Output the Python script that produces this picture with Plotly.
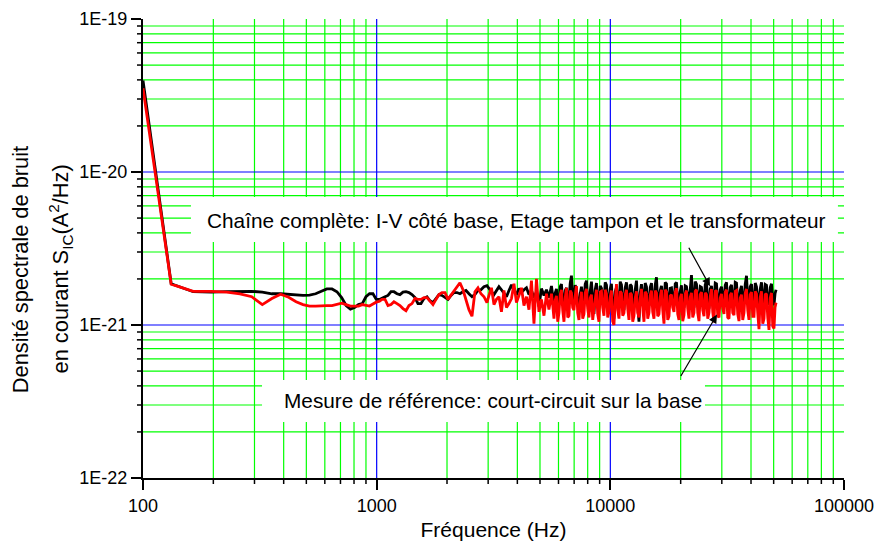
import math
import plotly.graph_objects as go

# Spectral density is stored in units of 1e-21 A^2/Hz
UNIT = 1e-21

freq_hz = [
    100, 132, 164, 196, 228, 260, 292, 324, 356, 388,
    420, 452, 484, 516, 548, 580, 612, 644, 676, 708,
    740, 772, 804, 836, 868, 900, 932, 964, 996, 1028,
    1054, 1086, 1118, 1152, 1186, 1222, 1258, 1296, 1335, 1375,
    1416, 1459, 1502, 1547, 1594, 1642, 1691, 1742, 1794, 1848,
    1903, 1960, 2019, 2080, 2142, 2206, 2272, 2341, 2411, 2483,
    2558, 2634, 2713, 2795, 2879, 2965,
    3024, 3099, 3177, 3256, 3337, 3420, 3506, 3593, 3683, 3775,
    3869, 3965, 4064, 4166, 4270, 4376, 4485, 4597, 4712, 4829,
    4950, 5073, 5200, 5330, 5462,
    5599, 5668, 5738, 5809, 5881, 5954, 6028, 6103, 6178, 6255,
    6333, 6411, 6491, 6571, 6652, 6734, 6818, 6903, 6988, 7075,
    7163, 7251, 7341, 7432, 7524, 7617, 7712, 7807, 7904, 8002,
    8101, 8201, 8303, 8406, 8510, 8616, 8723, 8831, 8940, 9051,
    9163, 9277, 9392, 9508, 9626, 9745, 9866, 9988, 10112, 10237,
    10364, 10492, 10623, 10755, 10888, 11023, 11160, 11298, 11438, 11580,
    11723, 11869, 12016, 12165, 12316, 12469, 12623, 12779, 12938, 13098,
    13260, 13424, 13591, 13760, 13930, 14103, 14278, 14455, 14634, 14816,
    14999, 15185, 15373, 15564, 15757, 15952, 16150, 16350, 16553, 16758,
    16966, 17177, 17389, 17605, 17823, 18044, 18267, 18494, 18723, 18955,
    19190, 19428, 19669, 19913, 20159, 20409, 20662, 20919, 21178, 21441,
    21706, 21975, 22248, 22524, 22803, 23086, 23372, 23662, 23955, 24252,
    24552, 24857, 25165, 25477, 25793, 26113, 26436, 26764, 27096, 27432,
    27772, 28116, 28464, 28817, 29174, 29536, 29902, 30273, 30648, 31028,
    31413, 31803, 32196, 32595, 32999, 33408, 33823, 34243, 34666, 35096,
    35531, 35972, 36417, 36869, 37326, 37789, 38257, 38731, 39211, 39698,
    40189, 40688, 41192, 41703, 42219, 42743, 43272, 43809, 44352, 44902,
    45458, 46022, 46592, 47170, 47754, 48346, 48945, 49552, 50166, 50680,
    51200,
]

# Full chain: I-V on base side, buffer stage and transformer
chaine_complete = [
    39.7, 1.86, 1.65, 1.64, 1.65, 1.65, 1.66, 1.64, 1.60, 1.60,
    1.58, 1.56, 1.56, 1.57, 1.60, 1.66, 1.72, 1.72, 1.65, 1.51,
    1.34, 1.27, 1.30, 1.36, 1.38, 1.53, 1.60, 1.60, 1.47, 1.47,
    1.49, 1.53, 1.56, 1.65, 1.65, 1.60, 1.58, 1.64, 1.65, 1.63,
    1.58, 1.51, 1.38, 1.38, 1.49, 1.53, 1.44, 1.40, 1.49, 1.58,
    1.56, 1.51, 1.47, 1.56, 1.63, 1.63, 1.60, 1.65, 1.68, 1.60,
    1.53, 1.58, 1.68, 1.70, 1.78, 1.81,
    1.75, 1.65, 1.58, 1.68, 1.78, 1.70, 1.60, 1.53, 1.68, 1.83,
    1.68, 1.58, 1.73, 1.63, 1.70, 1.75, 1.58, 1.68, 1.51, 1.65,
    1.32, 1.73, 1.56, 1.70, 1.51,
    1.80, 1.55, 1.35, 1.62, 1.72, 1.30, 1.40, 1.78, 1.85, 1.42,
    1.30, 1.68, 1.75, 1.32, 1.45, 1.88, 2.10, 1.50, 1.38, 1.82,
    1.70, 1.35, 1.28, 1.60, 1.78, 1.48, 1.42, 1.85, 1.95, 1.40,
    1.22, 1.66, 1.92, 1.45, 1.18, 1.70, 1.88, 1.30, 1.35, 1.80,
    1.74, 1.52, 1.40, 1.90, 1.82, 1.38, 1.30, 1.72, 1.86, 1.28,
    1.10, 1.65, 1.76, 1.44, 1.30, 1.92, 1.83, 1.36, 1.25, 1.75,
    1.90, 1.48, 1.38, 1.84, 1.80, 1.40, 1.32, 1.70, 1.95, 1.34,
    1.05, 1.62, 1.85, 1.50, 1.40, 1.88, 1.78, 1.32, 1.35, 1.76,
    1.88, 1.45, 1.30, 1.83, 2.05, 1.38, 1.42, 1.68, 1.80, 1.50,
    1.28, 1.90, 1.86, 1.35, 1.38, 1.74, 1.75, 1.46, 1.33, 1.86,
    1.90, 1.40, 1.40, 1.66, 1.82, 1.32, 1.30, 1.80, 1.78, 1.52,
    1.36, 1.70, 2.12, 1.42, 1.30, 1.92, 1.85, 1.36, 1.42, 1.78,
    1.76, 1.48, 1.34, 1.84, 1.92, 1.34, 1.28, 1.72, 1.80, 1.45,
    1.38, 1.88, 1.86, 1.38, 1.32, 1.70, 1.78, 1.50, 1.40, 1.82,
    1.90, 1.36, 1.30, 1.76, 1.83, 1.44, 1.36, 1.90, 1.88, 1.40,
    1.30, 1.68, 1.80, 1.34, 1.42, 1.85, 2.10, 1.46, 1.35, 1.78,
    1.85, 1.38, 1.30, 1.88, 1.78, 1.42, 1.38, 1.72, 1.90, 1.50,
    1.32, 1.84, 1.82, 1.36, 1.40, 1.76, 1.86, 1.45, 1.35, 1.60,
    1.70,
]

# Reference measurement: base short-circuited
mesure_reference = [
    35.3, 1.85, 1.66, 1.66, 1.64, 1.60, 1.53, 1.36, 1.49, 1.59,
    1.52, 1.42, 1.36, 1.33, 1.33, 1.34, 1.34, 1.34, 1.36, 1.39,
    1.36, 1.33, 1.33, 1.33, 1.36, 1.34, 1.33, 1.37, 1.41, 1.43,
    1.47, 1.47, 1.34, 1.36, 1.42, 1.38, 1.34, 1.28, 1.24, 1.34,
    1.38, 1.49, 1.47, 1.47, 1.51, 1.51, 1.42, 1.36, 1.47, 1.58,
    1.63, 1.63, 1.47, 1.56, 1.65, 1.75, 1.89, 1.70, 1.47, 1.26,
    1.14, 1.65, 1.75, 1.60, 1.53, 1.40,
    1.56, 1.75, 1.36, 1.47, 1.53, 1.22, 1.68, 1.30, 1.38, 1.49,
    1.86, 1.40, 1.56, 1.75, 1.34, 1.53, 1.26, 1.95, 1.02, 2.00,
    1.22, 1.47, 1.15, 1.60, 1.26,
    1.60, 1.35, 1.10, 1.45, 1.55, 1.05, 1.20, 1.58, 1.70, 1.25,
    1.05, 1.50, 1.75, 1.12, 1.15, 1.68, 1.62, 1.30, 1.25, 1.55,
    1.80, 1.20, 1.08, 1.40, 1.65, 1.10, 1.18, 1.62, 1.72, 1.28,
    1.12, 1.50, 1.58, 1.08, 1.25, 1.55, 1.70, 1.18, 1.05, 1.64,
    1.66, 1.30, 1.15, 1.70, 1.60, 1.12, 1.22, 1.52, 1.68, 1.06,
    1.00, 1.45, 1.85, 1.25, 1.10, 1.66, 1.62, 1.15, 1.20, 1.58,
    1.70, 1.28, 1.08, 1.62, 1.58, 1.05, 1.15, 1.50, 1.66, 1.20,
    1.12, 1.48, 1.72, 1.30, 1.05, 1.65, 1.60, 1.10, 1.20, 1.56,
    1.68, 1.22, 1.10, 1.68, 1.62, 1.14, 1.18, 1.52, 1.70, 1.26,
    1.02, 1.70, 1.65, 1.08, 1.14, 1.55, 1.58, 1.30, 1.22, 1.64,
    1.74, 1.18, 1.08, 1.50, 1.60, 1.06, 1.16, 1.60, 1.68, 1.28,
    1.10, 1.52, 1.62, 1.12, 1.20, 1.66, 1.70, 1.20, 1.06, 1.58,
    1.64, 1.25, 1.14, 1.62, 1.58, 1.10, 1.20, 1.54, 1.72, 1.22,
    1.04, 1.68, 1.66, 1.15, 1.12, 1.50, 1.60, 1.28, 1.18, 1.64,
    1.70, 1.12, 1.10, 1.56, 1.62, 1.20, 1.16, 1.66, 1.68, 1.18,
    1.06, 1.50, 1.58, 1.08, 1.20, 1.62, 1.72, 1.25, 1.08, 1.58,
    1.64, 1.14, 1.14, 1.66, 1.60, 1.20, 0.94, 1.52, 1.66, 1.02,
    1.10, 1.60, 1.58, 1.12, 0.93, 1.50, 1.62, 0.98, 0.95, 1.30,
    1.40,
]

assert len(freq_hz) == len(chaine_complete) == len(mesure_reference)

# Axis ticks and grid positions
X_RANGE = (2, 5)      # log10(Hz)
Y_RANGE = (-22, -19)  # log10(A^2/Hz)
x_major = [100, 1000, 10000, 100000]
x_major_text = ["100", "1000", "10000", "100000"]
y_major = [1e-22, 1e-21, 1e-20, 1e-19]
y_major_text = ["1E-22", "1E-21", "1E-20", "1E-19"]
minor_steps = [2, 3, 4, 5, 6, 7, 8, 9]
x_minor = [m * d for d in [100, 1000, 10000] for m in minor_steps]
y_minor = [m * d for d in [1e-22, 1e-21, 1e-20] for m in minor_steps]
x_inner_major = [1000, 10000]
y_inner_major = [1e-21, 1e-20]

# Label boxes in data units: (f_min, f_max, S_min, S_max)
box_full_chain = (160.4, 94190, 3.487e-21, 6.866e-21)
box_reference = (323.1, 25410, 2.323e-22, 4.370e-22)

# Arrow targets (frequency, density in 1e-21 units)
arrow_full_chain = (26700, 1.79)
arrow_reference = (28600, 1.17)

FONT = "Liberation Sans, Arial, sans-serif"
GREEN = "#00ff00"
BLUE = "#0000ff"

PLOT_W = 877 - 143 - 33
PLOT_H = 547 - 19 - 69
MINOR_LEN = 6
F_LO, F_HI = 10 ** X_RANGE[0], 10 ** X_RANGE[1]
S_LO, S_HI = 10 ** Y_RANGE[0], 10 ** Y_RANGE[1]


def x_frac(v):
    return (math.log10(v) - X_RANGE[0]) / (X_RANGE[1] - X_RANGE[0])


def y_frac(v):
    return (math.log10(v) - Y_RANGE[0]) / (Y_RANGE[1] - Y_RANGE[0])


fig = go.Figure()
fig.add_trace(go.Scatter(
    x=freq_hz, y=[v * UNIT for v in chaine_complete], mode="lines",
    line=dict(color="black", width=2.8), showlegend=False,
))
fig.add_trace(go.Scatter(
    x=freq_hz, y=[v * UNIT for v in mesure_reference], mode="lines",
    line=dict(color="#ff0000", width=2.8), showlegend=False,
))

axis_common = dict(
    type="log", showline=True, linecolor="black", linewidth=2,
    ticks="outside", ticklen=10, tickwidth=2, tickcolor="black",
    showgrid=False, zeroline=False, automargin=False,
    tickfont=dict(family=FONT, size=18, color="black"),
)

fig.update_xaxes(
    **axis_common, range=list(X_RANGE), tickmode="array",
    tickvals=x_major, ticktext=x_major_text,
    title=dict(text="Fréquence (Hz)", font=dict(family=FONT, size=21, color="black"),
               standoff=8),
)
fig.update_yaxes(
    **axis_common, range=list(Y_RANGE), tickmode="array",
    tickvals=y_major, ticktext=y_major_text,
)

shapes = []
# Grid lines (shape positions on log axes are given in data units)
for v in x_minor:
    shapes.append(dict(type="line", xref="x", yref="y", x0=v, x1=v, y0=S_LO, y1=S_HI,
                       line=dict(color=GREEN, width=1.2), layer="below"))
for v in y_minor:
    shapes.append(dict(type="line", xref="x", yref="y", y0=v, y1=v, x0=F_LO, x1=F_HI,
                       line=dict(color=GREEN, width=1.2), layer="below"))
for v in x_inner_major:
    shapes.append(dict(type="line", xref="x", yref="y", x0=v, x1=v, y0=S_LO, y1=S_HI,
                       line=dict(color=BLUE, width=1.2), layer="below"))
for v in y_inner_major:
    shapes.append(dict(type="line", xref="x", yref="y", y0=v, y1=v, x0=F_LO, x1=F_HI,
                       line=dict(color=BLUE, width=1.2), layer="below"))
# White label boxes over the grid
for fx0, fx1, sy0, sy1 in (box_full_chain, box_reference):
    shapes.append(dict(type="rect", xref="x", yref="y", x0=fx0, x1=fx1, y0=sy0, y1=sy1,
                       fillcolor="white", line=dict(width=0), layer="below"))
# Minor tick marks outside the axes
for v in x_minor:
    shapes.append(dict(type="line", xref="paper", yref="paper", x0=x_frac(v), x1=x_frac(v),
                       y0=0, y1=-MINOR_LEN / PLOT_H, line=dict(color="black", width=1.5)))
for v in y_minor:
    shapes.append(dict(type="line", xref="paper", yref="paper", y0=y_frac(v), y1=y_frac(v),
                       x0=0, x1=-MINOR_LEN / PLOT_W, line=dict(color="black", width=1.5)))
fig.update_layout(shapes=shapes)

label_font = dict(family=FONT, size=20.8, color="black")
fig.add_annotation(text="Chaîne complète: I-V côté base, Etage tampon et le transformateur",
                   xref="paper", yref="paper", x=0.5335, y=0.562, showarrow=False,
                   font=label_font, xanchor="center", yanchor="middle")
fig.add_annotation(text="Mesure de référence: court-circuit sur la base",
                   xref="paper", yref="paper", x=0.4993, y=0.1678, showarrow=False,
                   font=label_font, xanchor="center", yanchor="middle")

# Annotation positions on log axes are given in log10 units
for (fx, vy), (ax, ay) in [(arrow_full_chain, (-22, -40)), (arrow_reference, (-37, 63))]:
    fig.add_annotation(x=math.log10(fx), y=math.log10(vy * UNIT), xref="x", yref="y",
                       text="", showarrow=True, ax=ax, ay=ay, arrowhead=2,
                       arrowsize=1.4, arrowwidth=1.2, arrowcolor="black")

# Two-line y-axis title
title_font = dict(family=FONT, size=21.8, color="black")
fig.add_annotation(text="Densité spectrale de bruit", xref="paper", yref="paper",
                   x=-0.1755, y=0.455, textangle=-90, showarrow=False, font=title_font,
                   xanchor="center", yanchor="middle")
fig.add_annotation(text="en courant S<sub>IC</sub>(A<sup>2</sup>/Hz)", xref="paper", yref="paper",
                   x=-0.118, y=0.455, textangle=-90, showarrow=False, font=title_font,
                   xanchor="center", yanchor="middle")

fig.update_layout(
    width=877, height=547,
    margin=dict(l=143, r=33, t=19, b=69),
    paper_bgcolor="white", plot_bgcolor="white",
    font=dict(family=FONT, color="black"),
)

fig.write_html("out.html")
